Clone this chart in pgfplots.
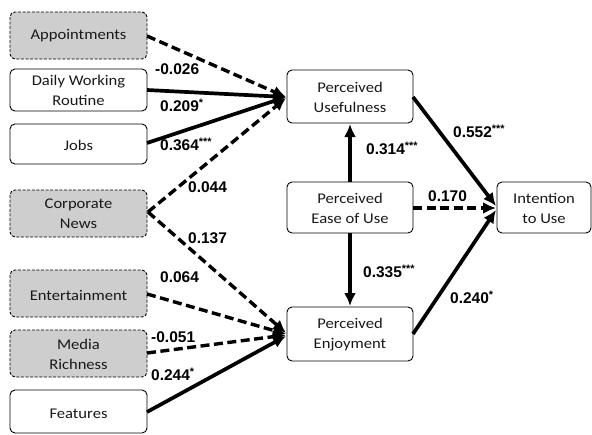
\documentclass[border=0pt]{standalone}
\usepackage{fontspec}
\usepackage{pgfplots}
\pgfplotsset{compat=1.18}
\usetikzlibrary{arrows.meta}
\newfontfamily\boxfont[FakeStretch=1.12]{Carlito}
\newfontfamily\lblfont{Liberation Sans}
\definecolor{boxgray}{RGB}{206,206,206}
\definecolor{txt}{RGB}{25,25,25}
\begin{document}
\begin{tikzpicture}[
  bx/.style={draw=black, line width=0.9pt, rounded corners=5pt, fill=white},
  gbx/.style={draw=black, line width=0.9pt, rounded corners=5pt, fill=boxgray, dash pattern=on 3pt off 1.6pt},
  bt/.style={font=\boxfont\fontsize{14.8}{20}\selectfont, text=txt, align=center},
  lb/.style={font=\lblfont\bfseries\fontsize{15.5}{16}\selectfont, anchor=west, inner sep=0pt},
]
\begin{axis}[
  width=592pt, height=434pt, scale only axis, hide axis,
  xmin=0, xmax=592, ymin=0, ymax=434, y dir=reverse, clip=false,
  solidarr/.style={draw=black, line width=3.7pt, no markers, -{Latex[length=13pt,width=12pt]}},
  dasharr/.style={draw=black, line width=3.4pt, no markers, dash pattern=on 9pt off 4.5pt, -{Latex[length=13pt,width=12pt]}},
]
% boxes
\draw[gbx] (axis cs:10,12) rectangle (axis cs:147,59);
\draw[bx] (axis cs:10,69) rectangle (axis cs:147,111);
\draw[bx] (axis cs:10,124) rectangle (axis cs:147,164);
\draw[gbx] (axis cs:10,190) rectangle (axis cs:147,237);
\draw[gbx] (axis cs:10,270) rectangle (axis cs:147,317);
\draw[gbx] (axis cs:10,330) rectangle (axis cs:147,377);
\draw[bx] (axis cs:10,390) rectangle (axis cs:147,433);
\draw[bx] (axis cs:287,70) rectangle (axis cs:413,123);
\draw[bx] (axis cs:287,182) rectangle (axis cs:413,233);
\draw[bx] (axis cs:287,307) rectangle (axis cs:413,361);
\draw[bx] (axis cs:497,182) rectangle (axis cs:591,233);
% box texts
\node[bt] at (axis cs:78.5,36) {Appointments};
\node[bt] at (axis cs:78.5,90) {Daily Working\\Routine};
\node[bt] at (axis cs:78.5,145) {Jobs};
\node[bt] at (axis cs:78.5,214) {Corporate\\News};
\node[bt] at (axis cs:78.5,295) {Entertainment};
\node[bt] at (axis cs:78.5,354) {Media\\Richness};
\node[bt] at (axis cs:78.5,414) {Features};
\node[bt] at (axis cs:350,97) {Perceived\\Usefulness};
\node[bt] at (axis cs:350,208) {Perceived\\Ease of Use};
\node[bt] at (axis cs:350,335) {Perceived\\Enjoyment};
\node[bt] at (axis cs:544,208) {Intention\\to Use};
% paths to Perceived Usefulness
\addplot[dasharr] coordinates {(147,36) (286,97)};
\addplot[solidarr] coordinates {(147,90) (286,97)};
\addplot[solidarr] coordinates {(147,143) (286,97)};
\addplot[dasharr] coordinates {(148,212) (286,98)};
% paths to Perceived Enjoyment
\addplot[dasharr] coordinates {(148,212) (286,333)};
\addplot[dasharr] coordinates {(147,294) (286,334)};
\addplot[dasharr] coordinates {(147,353) (286,335)};
\addplot[solidarr] coordinates {(147,412) (286,336)};
% ease of use
\addplot[solidarr] coordinates {(350,182) (350,124)};
\addplot[solidarr] coordinates {(350,233) (350,306)};
\addplot[dasharr] coordinates {(413,208) (496,208)};
% to intention
\addplot[solidarr] coordinates {(413,97) (496,206)};
\addplot[solidarr] coordinates {(413,334) (496,210)};
% labels
\node[lb] at (axis cs:155,69) {-0.026};
\node[lb] at (axis cs:160,105) {0.209\textsuperscript{*}};
\node[lb] at (axis cs:160,144) {0.364\textsuperscript{***}};
\node[lb] at (axis cs:188,187) {0.044};
\node[lb] at (axis cs:188,238) {0.137};
\node[lb] at (axis cs:160,277) {0.064};
\node[lb] at (axis cs:151,337) {-0.051};
\node[lb] at (axis cs:151,374) {0.244\textsuperscript{*}};
\node[lb] at (axis cs:366,148) {0.314\textsuperscript{***}};
\node[lb] at (axis cs:428,196) {0.170};
\node[lb] at (axis cs:453,131) {0.552\textsuperscript{***}};
\node[lb] at (axis cs:363,271) {0.335\textsuperscript{***}};
\node[lb] at (axis cs:450,297) {0.240\textsuperscript{*}};
\end{axis}
\pgfresetboundingbox
\path (current axis.south west) rectangle (current axis.north east);
\end{tikzpicture}
\end{document}
